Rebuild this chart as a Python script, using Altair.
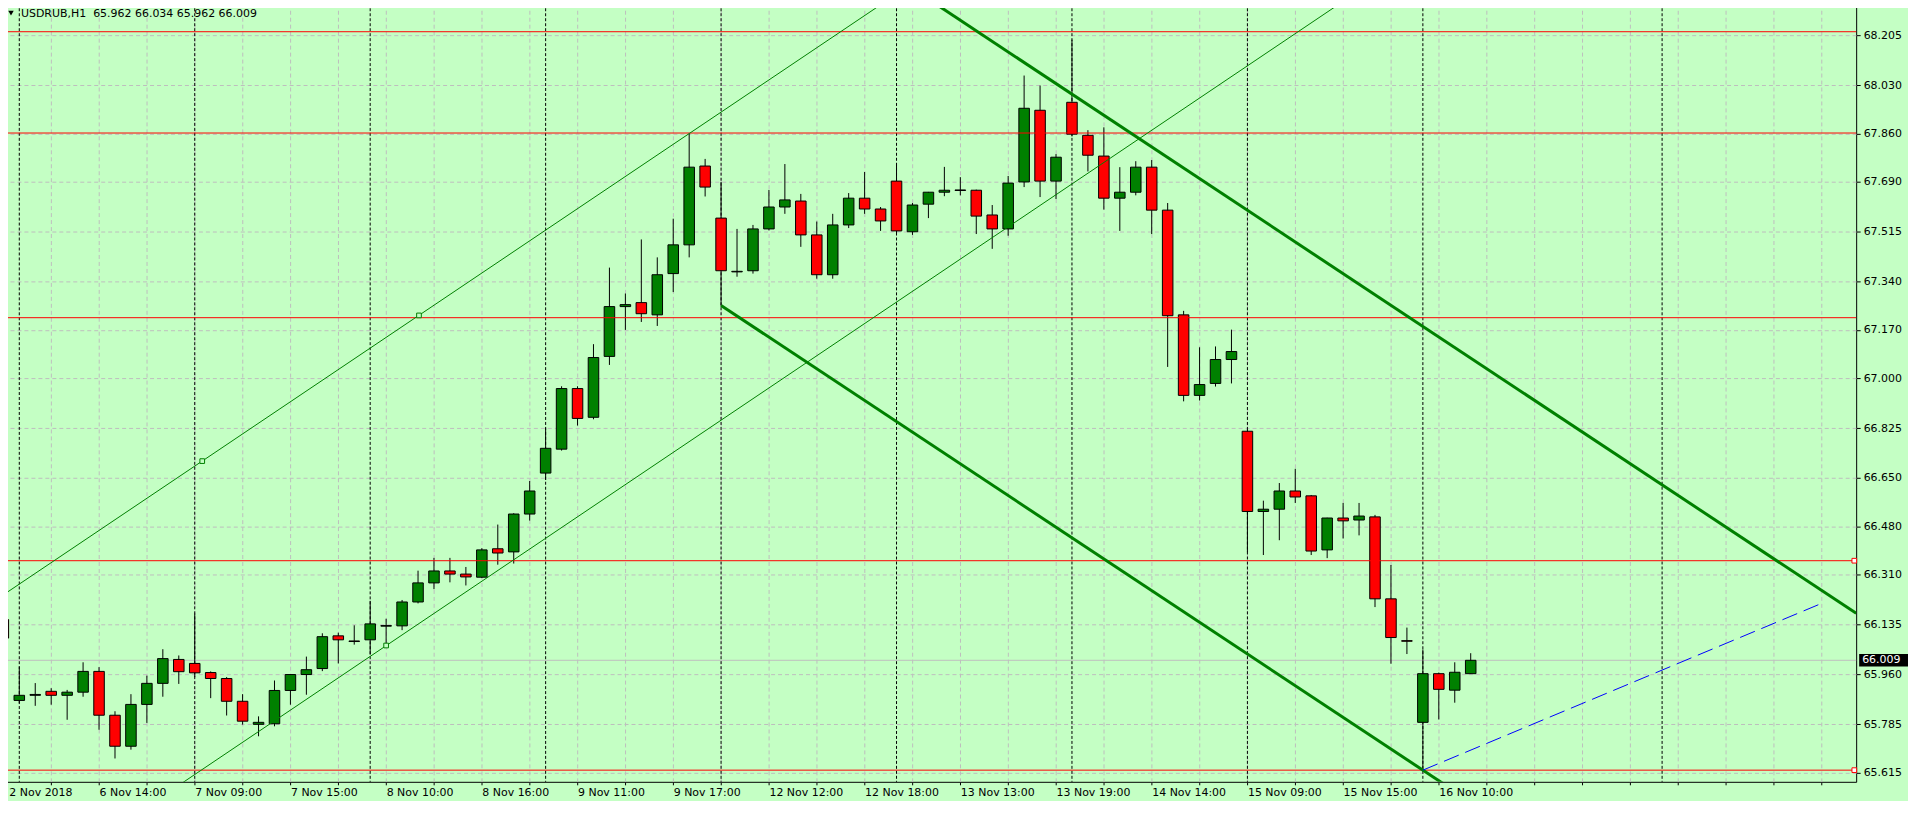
import json
import altair as alt
import pandas as pd

# ---------------- data ----------------
symbol = "USDRUB,H1"
bars = list(range(-1, 92))
opens = [66.152, 65.868, 65.886, 65.900, 65.886, 65.897, 65.970, 65.816, 65.707, 65.854,
         65.928, 66.012, 65.998, 65.966, 65.945, 65.865, 65.784, 65.786, 65.903, 65.959,
         65.980, 66.095, 66.077, 66.081, 66.129, 66.130, 66.214, 66.281, 66.323, 66.312,
         66.301, 66.401, 66.390, 66.523, 66.667, 66.751, 66.964, 66.863, 67.077, 67.252,
         67.266, 67.223, 67.368, 67.469, 67.746, 67.563, 67.374, 67.378, 67.525, 67.602,
         67.623, 67.504, 67.364, 67.539, 67.633, 67.595, 67.693, 67.515, 67.612, 67.654,
         67.660, 67.661, 67.574, 67.525, 67.690, 67.942, 67.693, 67.970, 67.854, 67.781,
         67.633, 67.654, 67.742, 67.591, 67.223, 66.940, 66.982, 67.066, 66.814, 66.532,
         66.540, 66.604, 66.587, 66.397, 66.509, 66.502, 66.513, 66.225, 66.078, 65.791,
         65.962, 65.904, 65.962]
highs = [66.158, 65.987, 65.929, 65.911, 65.905, 66.002, 65.985, 65.830, 65.890, 65.955,
         66.048, 66.026, 66.173, 65.970, 65.950, 65.890, 65.812, 65.938, 65.960, 66.022,
         66.104, 66.106, 66.132, 66.218, 66.155, 66.221, 66.324, 66.369, 66.369, 66.337,
         66.403, 66.486, 66.526, 66.639, 66.826, 66.972, 66.972, 67.120, 67.389, 67.298,
         67.488, 67.425, 67.561, 67.860, 67.771, 67.690, 67.525, 67.539, 67.662, 67.753,
         67.648, 67.551, 67.578, 67.651, 67.725, 67.602, 67.756, 67.616, 67.655, 67.743,
         67.707, 67.663, 67.609, 67.711, 68.064, 68.029, 67.788, 68.190, 67.872, 67.882,
         67.742, 67.763, 67.767, 67.616, 67.237, 67.109, 67.112, 67.171, 66.821, 66.570,
         66.632, 66.682, 66.590, 66.510, 66.562, 66.562, 66.520, 66.344, 66.124, 66.047,
         65.966, 66.002, 66.034]
lows = [66.073, 65.858, 65.849, 65.853, 65.800, 65.881, 65.765, 65.664, 65.695, 65.789,
        65.881, 65.926, 65.950, 65.876, 65.815, 65.783, 65.742, 65.777, 65.853, 65.888,
        65.971, 65.998, 66.064, 66.029, 66.062, 66.115, 66.209, 66.259, 66.283, 66.272,
        66.298, 66.345, 66.349, 66.500, 66.643, 66.746, 66.834, 66.856, 67.047, 67.170,
        67.198, 67.184, 67.303, 67.425, 67.639, 67.255, 67.357, 67.368, 67.520, 67.578,
        67.462, 67.350, 67.350, 67.528, 67.578, 67.518, 67.510, 67.504, 67.563, 67.640,
        67.643, 67.507, 67.455, 67.501, 67.672, 67.637, 67.630, 67.850, 67.727, 67.593,
        67.518, 67.643, 67.507, 67.040, 66.919, 66.922, 66.971, 66.982, 66.389, 66.379,
        66.431, 66.562, 66.379, 66.368, 66.437, 66.448, 66.196, 65.997, 66.031, 65.623,
        65.801, 65.860, 65.962]
closes = [66.087, 65.886, 65.889, 65.886, 65.897, 65.970, 65.816, 65.707, 65.854, 65.928,
          66.015, 65.969, 65.965, 65.945, 65.865, 65.795, 65.791, 65.903, 65.959, 65.976,
          66.092, 66.081, 66.075, 66.137, 66.131, 66.214, 66.281, 66.323, 66.312, 66.302,
          66.397, 66.386, 66.523, 66.604, 66.754, 66.964, 66.859, 67.073, 67.252, 67.259,
          67.227, 67.364, 67.469, 67.742, 67.672, 67.378, 67.376, 67.525, 67.602, 67.627,
          67.504, 67.364, 67.539, 67.633, 67.595, 67.553, 67.518, 67.609, 67.654, 67.661,
          67.662, 67.570, 67.525, 67.686, 67.949, 67.693, 67.777, 67.858, 67.784, 67.633,
          67.654, 67.742, 67.591, 67.220, 66.940, 66.978, 67.066, 67.094, 66.532, 66.540,
          66.604, 66.583, 66.393, 66.509, 66.499, 66.516, 66.225, 66.089, 66.076, 65.962,
          65.907, 65.967, 66.009]

price_ticks = [65.615, 65.785, 65.960, 66.135, 66.310, 66.480, 66.650, 66.825,
               67.000, 67.170, 67.340, 67.515, 67.690, 67.860, 68.030, 68.205]
time_label_bars = [-1, 5, 11, 17, 23, 29, 35, 41, 47, 53, 59, 65, 71, 77, 83, 89]
time_labels = ["2 Nov 2018", "6 Nov 14:00", "7 Nov 09:00", "7 Nov 15:00", "8 Nov 10:00",
               "8 Nov 16:00", "9 Nov 11:00", "9 Nov 17:00", "12 Nov 12:00", "12 Nov 18:00",
               "13 Nov 13:00", "13 Nov 19:00", "14 Nov 14:00", "15 Nov 09:00",
               "15 Nov 15:00", "16 Nov 10:00"]
grid_bars = list(range(-1, 114, 3))
day_sep_bars = [0, 11, 22, 33, 44, 55, 66, 77, 88, 103]
red_levels = [68.218, 67.862, 67.213, 66.359, 65.623]
selected_levels = [66.359, 65.623]
selected_marker_bars = [-0.9, 115.05]
bid_price = 66.009

# trend lines: start bar, start price, end bar, end price
line_names = ["thin_low", "thin_up", "thick_low", "thick_up", "blue"]
line_x1 = [9.5, -1.083, 44.0, 57.42, 88.0]
line_y1 = [65.551, 66.236, 67.256, 68.317, 65.623]
line_x2 = [82.8, 54.12, 89.94, 115.17, 113.0]
line_y2 = [68.317, 68.317, 65.551, 66.174, 66.209]
channel_pt_bars = [11.47, 25.06, 23.0]
channel_pt_prices = [66.709, 67.221, 66.061]

# ---------------- layout ----------------
W, H = 1860, 781
BG = "#C4FFC4"
GRID = "#BEBEBE"
FONT = "DejaVu Sans"
X_DOMAIN = [-1.083, 115.167]
Y_DOMAIN = [65.582, 68.318]

xs = alt.Scale(domain=X_DOMAIN, nice=False, zero=False)
ys = alt.Scale(domain=Y_DOMAIN, nice=False, zero=False)

# the first label sits at the very left edge; it is drawn as its own text below
lab_map = dict(zip(time_label_bars[1:], time_labels[1:]))
lab_arr = [lab_map.get(b, "") for b in grid_bars]
label_expr = json.dumps(lab_arr) + "[round((datum.value + 1) / 3)]"

x_axis = alt.Axis(values=grid_bars, labelExpr=label_expr, orient="bottom", title=None,
                  grid=True, gridColor=GRID, gridDash=[4, 3], gridWidth=1,
                  domain=False, ticks=True, tickColor="black", tickSize=3,
                  labelAlign="left", labelBaseline="top", labelPadding=2,
                  labelFont=FONT, labelFontSize=11, labelColor="black",
                  labelOverlap=False, labelFlush=False, labelBound=False)
y_axis = alt.Axis(values=price_ticks, format=".3f", orient="right", title=None,
                  grid=True, gridColor=GRID, gridDash=[4, 3], gridWidth=1,
                  domain=False, ticks=True, tickColor="black", tickSize=4,
                  labelPadding=3, labelFont=FONT, labelFontSize=11, labelColor="black",
                  labelOverlap=False, labelFlush=False, labelBound=False)

cd = pd.DataFrame({"i": bars, "o": opens, "h": highs, "l": lows, "c": closes})
cd["dir"] = ["up" if c >= o else "down" for o, c in zip(cd.o, cd.c)]
cd["xl"] = cd.i - 0.33
cd["xr"] = cd.i + 0.33

base = alt.Chart(cd)

wicks = base.mark_rule(color="black", strokeWidth=1, clip=True).encode(
    x=alt.X("i:Q", scale=xs, axis=x_axis),
    y=alt.Y("l:Q", scale=ys, axis=y_axis),
    y2="h:Q",
)
bodies = base.mark_rect(stroke="black", strokeWidth=1, clip=True).encode(
    x=alt.X("xl:Q", scale=xs, axis=x_axis),
    x2="xr:Q",
    y=alt.Y("o:Q", scale=ys, axis=y_axis),
    y2="c:Q",
    color=alt.Color("dir:N", scale=alt.Scale(domain=["up", "down"], range=["#008000", "#FF0000"]), legend=None),
)

day_df = pd.DataFrame({"b": day_sep_bars})
day_lines = alt.Chart(day_df).mark_rule(color="black", strokeWidth=1, strokeDash=[3, 2]).encode(
    x=alt.X("b:Q", scale=xs, axis=x_axis)
)

bid_df = pd.DataFrame({"p": [bid_price]})
bid_line = alt.Chart(bid_df).mark_rule(color="#C0C0C0", strokeWidth=1).encode(
    y=alt.Y("p:Q", scale=ys, axis=y_axis)
)

red_df = pd.DataFrame({"p": red_levels})
red_lines = alt.Chart(red_df).mark_rule(color="#FF0000", strokeWidth=1).encode(
    y=alt.Y("p:Q", scale=ys, axis=y_axis)
)

sel_df = pd.DataFrame([{"b": b, "p": p} for p in selected_levels for b in selected_marker_bars])
sel_marks = alt.Chart(sel_df).mark_point(shape="square", size=22, filled=True, fill="white",
                                         stroke="#FF0000", strokeWidth=1, opacity=1).encode(
    x=alt.X("b:Q", scale=xs, axis=x_axis),
    y=alt.Y("p:Q", scale=ys, axis=y_axis),
)

ln = pd.DataFrame({"name": line_names, "x1": line_x1, "y1": line_y1, "x2": line_x2, "y2": line_y2})

def seg(name, color, width, dash=None):
    kw = dict(color=color, strokeWidth=width, clip=True)
    if dash:
        kw["strokeDash"] = dash
    return alt.Chart(ln[ln.name == name]).mark_rule(**kw).encode(
        x=alt.X("x1:Q", scale=xs, axis=x_axis), x2="x2:Q",
        y=alt.Y("y1:Q", scale=ys, axis=y_axis), y2="y2:Q",
    )

thin_low = seg("thin_low", "#008000", 1)
thin_up = seg("thin_up", "#008000", 1)
thick_low = seg("thick_low", "#008000", 3)
thick_up = seg("thick_up", "#008000", 3)
blue = seg("blue", "#0000FF", 1, [16, 7])

cp_df = pd.DataFrame({"b": channel_pt_bars, "p": channel_pt_prices})
cp_marks = alt.Chart(cp_df).mark_point(shape="square", size=22, filled=True, fill=BG,
                                       stroke="#008000", strokeWidth=1, opacity=1).encode(
    x=alt.X("b:Q", scale=xs, axis=x_axis),
    y=alt.Y("p:Q", scale=ys, axis=y_axis),
)

tag_df = pd.DataFrame({"p": [bid_price], "top": [bid_price + 0.022], "bot": [bid_price - 0.022],
                       "t": [f"{bid_price:.3f}"]})
tag_box = alt.Chart(tag_df).mark_rect(color="black").encode(
    x=alt.value(W + 3), x2=alt.value(W + 52),
    y=alt.Y("top:Q", scale=ys, axis=y_axis), y2="bot:Q",
)
tag_text = alt.Chart(tag_df).mark_text(color="white", font=FONT, fontSize=11, align="left",
                                       baseline="middle").encode(
    x=alt.value(W + 6),
    y=alt.Y("p:Q", scale=ys, axis=y_axis),
    text="t:N",
)

first_df = pd.DataFrame({"b": [time_label_bars[0]], "t": [time_labels[0]]})
first_label = alt.Chart(first_df).mark_text(font=FONT, fontSize=11, color="black", align="left",
                                            baseline="top", dx=6).encode(
    x=alt.X("b:Q", scale=xs, axis=x_axis),
    y=alt.value(H + 5),
    text="t:N",
)

title_str = symbol + "\u00a0\u00a0" + " ".join(f"{v:.3f}" for v in [opens[-1], highs[-1], lows[-1], closes[-1]])
title_df = pd.DataFrame({"t": [title_str]})
title_text = alt.Chart(title_df).mark_text(font=FONT, fontSize=11, color="black", align="left",
                                           baseline="middle").encode(
    x=alt.value(19), y=alt.value(11), text="t:N"
)
tri = alt.Chart(title_df).mark_point(shape="triangle-down", filled=True, color="black", size=30,
                                     opacity=1).encode(x=alt.value(9), y=alt.value(10))

chart = alt.layer(
    bid_line, day_lines, wicks, bodies, red_lines,
    thin_low, thin_up, thick_low, thick_up, blue,
    cp_marks, sel_marks, tag_box, tag_text, first_label, title_text, tri,
).properties(
    width=W, height=H, background=BG,
    padding={"left": -6, "top": -6, "right": 52, "bottom": 18},
    autosize=alt.AutoSizeParams(type="none"),
).configure_view(
    fill=BG, stroke="black", strokeWidth=1
)

chart.save("out.html", embed_options={"renderer": "svg", "actions": False})
